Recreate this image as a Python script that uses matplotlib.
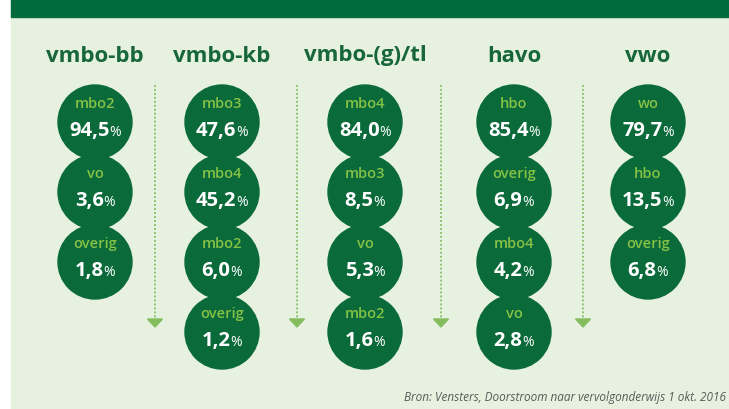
import matplotlib
matplotlib.use("Agg")
import matplotlib.pyplot as plt
from matplotlib.patches import Circle, Rectangle, Polygon
from matplotlib.offsetbox import TextArea, HPacker, AnnotationBbox

# ── DATA ───────────────────────────────────────────────────────────────────────
columns = ["vmbo-bb", "vmbo-kb", "vmbo-(g)/tl", "havo", "vwo"]
bb_dest = ["mbo2", "vo", "overig"]
bb_pct = ["94,5", "3,6", "1,8"]
kb_dest = ["mbo3", "mbo4", "mbo2", "overig"]
kb_pct = ["47,6", "45,2", "6,0", "1,2"]
tl_dest = ["mbo4", "mbo3", "vo", "mbo2"]
tl_pct = ["84,0", "8,5", "5,3", "1,6"]
havo_dest = ["hbo", "overig", "mbo4", "vo"]
havo_pct = ["85,4", "6,9", "4,2", "2,8"]
vwo_dest = ["wo", "hbo", "overig"]
vwo_pct = ["79,7", "13,5", "6,8"]
source = "Bron: Vensters, Doorstroom naar vervolgonderwijs 1 okt. 2016"

# ── STYLE / LAYOUT ─────────────────────────────────────────────────────────────
DARK = "#0A6A3A"
BG = "#E6F2DF"
LABEL = "#86C246"
ARROW = "#84BC5E"
FONT = "Open Sans"

col_x = [95, 222, 365, 514, 648]
arrow_x = [155, 297, 441, 583]
row_y0, row_step, radius = 122, 70, 37

fig = plt.figure(figsize=(7.29, 4.09), dpi=100)
ax = fig.add_axes([0, 0, 1, 1])
ax.set_xlim(0, 729)
ax.set_ylim(409, 0)
ax.axis("off")

ax.add_patch(Rectangle((11, 0), 718, 409, color=BG, zorder=0))
ax.add_patch(Rectangle((11, 0), 718, 17, color="#006B3C", zorder=1))

groups = [(bb_dest, bb_pct), (kb_dest, kb_pct), (tl_dest, tl_pct),
          (havo_dest, havo_pct), (vwo_dest, vwo_pct)]

for x, name, (dest, pct) in zip(col_x, columns, groups):
    ax.text(x, 56, name, ha="center", va="center", fontsize=16,
            fontweight="bold", color="#17673A", family=FONT)
    for i, (d, p) in enumerate(zip(dest, pct)):
        cy = row_y0 + i * row_step
        ax.add_patch(Circle((x, cy), radius, color=DARK, zorder=2))
        ax.text(x, cy - 18, d, ha="center", va="center", fontsize=10.5,
                fontweight="semibold", color=LABEL, family=FONT, zorder=3)
        num = TextArea(p, textprops=dict(fontsize=14.5, fontweight="bold",
                                         color="white", family=FONT))
        per = TextArea("%", textprops=dict(fontsize=10, color="white",
                                           family=FONT))
        box = HPacker(children=[num, per], align="baseline", pad=0, sep=0)
        ab = AnnotationBbox(box, (x, cy + 9), frameon=False,
                            box_alignment=(0.5, 0.5), zorder=4)
        ax.add_artist(ab)

for x in arrow_x:
    ax.plot([x, x], [85, 318], color=ARROW, lw=1.3,
            linestyle=(0, (1, 1.2)), zorder=2)
    ax.add_patch(Polygon([[x - 7.5, 319], [x + 7.5, 319], [x, 327]],
                         closed=True, color=ARROW, zorder=2))

ax.text(726, 397, source, ha="right", va="center", fontsize=8.5,
        style="italic", color="#5a5a5a", family=FONT)

fig.savefig("out.png", dpi=100)
